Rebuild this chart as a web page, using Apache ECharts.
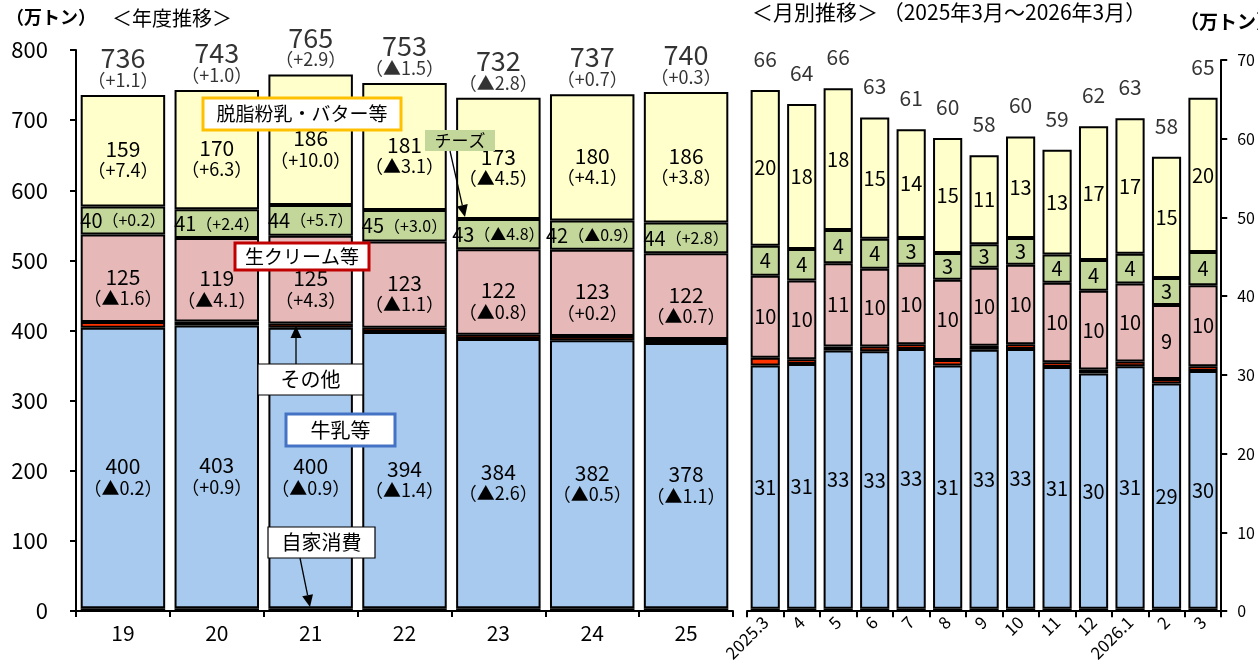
<!DOCTYPE html>
<html><head><meta charset="utf-8">
<script src="https://cdn.jsdelivr.net/npm/echarts@6/dist/echarts.min.js"></script>
<style>html,body{margin:0;padding:0;background:#fff}#c{width:1258px;height:664px}</style>
</head><body><div id="c"></div>
<script>
// ---- yearly data (万トン) ----
const years = ['19','20','21','22','23','24','25'];
const yJika   = [4,4,4,4,4,4,4];
const yMilk   = [400,403,400,394,384,382,378];
const yOther  = [8,6,6,6,6,6,6];
const yCream  = [125,119,125,123,122,123,122];
const yCheese = [40,41,44,45,43,42,44];
const yButter = [159,170,186,181,173,180,186];
const yTotal  = [736,743,765,753,732,737,740];
const chgTotal  = ['+1.1','+1.0','+2.9','▲1.5','▲2.8','+0.7','+0.3'];
const chgMilk   = ['▲0.2','+0.9','▲0.9','▲1.4','▲2.6','▲0.5','▲1.1'];
const chgCream  = ['▲1.6','▲4.1','+4.3','▲1.1','▲0.8','+0.2','▲0.7'];
const chgCheese = ['+0.2','+2.4','+5.7','+3.0','▲4.8','▲0.9','+2.8'];
const chgButter = ['+7.4','+6.3','+10.0','▲3.1','▲4.5','+4.1','+3.8'];
// ---- monthly data (万トン) ----
const months = ['2025.3','4','5','6','7','8','9','10','11','12','2026.1','2','3'];
const mJika   = [0.3,0.3,0.3,0.3,0.3,0.3,0.3,0.3,0.3,0.3,0.3,0.3,0.3];
const mMilk   = [30.9,31.1,32.8,32.7,33.0,30.9,32.9,33.0,30.7,29.9,30.8,28.6,30.2];
const mOther  = [1.0,0.6,0.5,0.6,0.6,0.7,0.5,0.6,0.6,0.5,0.6,0.6,0.6];
const mCream  = [10.4,10.0,10.6,9.9,10.1,10.2,9.9,10.1,10.1,10.0,9.9,9.4,10.3];
const mCheese = [3.8,4.0,4.2,3.8,3.4,3.4,3.0,3.4,3.6,3.9,3.8,3.4,4.2];
const mButter = [19.8,18.4,18.0,15.4,13.8,14.6,11.3,12.9,13.3,17.0,17.2,15.4,19.6];
const mTotal  = [66,64,66,63,61,60,58,60,59,62,63,58,65];

const FONT = "'Noto Sans CJK JP', sans-serif";
const C = {jika:'#3B7A3B', milk:'#A8CAEE', other:'#FF3300', cream:'#E6B9B8', cheese:'#C4D79B', butter:'#FFFFCC'};
const sumArr = (...arrs) => arrs[0].map((_, i) => arrs.reduce((s, a) => s + a[i], 0));
const ySum = sumArr(yJika, yMilk, yOther, yCream, yCheese, yButter);
const mSum = sumArr(mJika, mMilk, mOther, mCream, mCheese, mButter);
const paren = s => '（' + s + '）';

const chart = echarts.init(document.getElementById('c'), null, {renderer:'canvas'});
const border = {borderColor:'#000', borderWidth:2};

function yBar(name, data, color, label) {
  return {type:'bar', name, stack:'y', xAxisIndex:0, yAxisIndex:0, data, barCategoryGap:'10%',
    itemStyle:Object.assign({color}, border), label: label || {show:false}, silent:true};
}
function mBar(name, data, color, showLabel) {
  return {type:'bar', name, stack:'m', xAxisIndex:1, yAxisIndex:1, data, barCategoryGap:'20%',
    itemStyle:Object.assign({color}, border),
    label: showLabel ? {show:true, position:'inside', color:'#000', fontFamily:FONT, fontSize:20,
      formatter:p => String(Math.round(p.value))} : {show:false}, silent:true};
}
const richTwo = (big, small) => ({
  a:{fontSize:big, fontFamily:FONT, color:'#000', lineHeight:big+1},
  b:{fontSize:small, fontFamily:FONT, color:'#000', lineHeight:small+3}
});
function twoLine(vals, chg) {
  return {show:true, position:'inside', offset:[0,9],
    formatter:p => '{a|' + vals[p.dataIndex] + '}\n{b|' + paren(chg[p.dataIndex]) + '}', rich:richTwo(21,18)};
}

function arrow(x1, y1, x2, y2) {
  const ang = Math.atan2(y2 - y1, x2 - x1), L = 12, W = 5.5;
  const bx = x2 - L * Math.cos(ang), by = y2 - L * Math.sin(ang);
  const px = -Math.sin(ang) * W, py = Math.cos(ang) * W;
  return [
    {type:'line', shape:{x1, y1, x2:bx, y2:by}, style:{stroke:'#000', lineWidth:1.3}, z:100},
    {type:'polygon', shape:{points:[[x2,y2],[bx+px,by+py],[bx-px,by-py]]}, style:{fill:'#000'}, z:100}
  ];
}
function box(x, y, w, h, text, stroke, lw, fill, fs) {
  return [
    {type:'rect', shape:{x, y, width:w, height:h}, style:{fill:fill||'#fff', stroke:stroke||null, lineWidth:lw||0}, z:100},
    {type:'text', x:x + w/2, y:y + h/2, style:{text, fontFamily:FONT, fontSize:fs||19, fill:'#000', align:'center', verticalAlign:'middle'}, z:101}
  ];
}

const option = {
  animation:false,
  backgroundColor:'#fff',
  textStyle:{fontFamily:FONT},
  grid:[
    {left:76, right:525, top:50, bottom:53},
    {left:747, right:36, top:60, bottom:52}
  ],
  xAxis:[
    {type:'category', gridIndex:0, data:years,
      axisLine:{lineStyle:{color:'#000', width:2}}, axisTick:{show:true, length:6, lineStyle:{color:'#000', width:2}},
      axisLabel:{fontSize:21, color:'#000', margin:12, fontFamily:FONT}},
    {type:'category', gridIndex:1, data:months,
      axisLine:{lineStyle:{color:'#000', width:2}}, axisTick:{show:true, length:6, lineStyle:{color:'#000', width:2}},
      axisLabel:{fontSize:17, color:'#000', margin:8, rotate:45, interval:0, fontFamily:FONT}}
  ],
  yAxis:[
    {type:'value', gridIndex:0, min:0, max:800, interval:100,
      axisLine:{show:true, lineStyle:{color:'#000', width:2}}, axisTick:{show:true, length:6, lineStyle:{color:'#000', width:2}},
      splitLine:{show:false}, axisLabel:{fontSize:22, color:'#000', margin:28, fontFamily:FONT}},
    {type:'value', gridIndex:1, position:'right', min:0, max:70, interval:10,
      axisLine:{show:true, lineStyle:{color:'#000', width:2}}, axisTick:{show:true, length:6, lineStyle:{color:'#000', width:2}},
      splitLine:{show:false}, axisLabel:{fontSize:16, color:'#000', margin:16, fontFamily:FONT}}
  ],
  series:[
    yBar('自家消費', yJika, C.jika),
    yBar('牛乳等', yMilk, C.milk, twoLine(yMilk, chgMilk)),
    yBar('その他', yOther, C.other),
    yBar('生クリーム等', yCream, C.cream, twoLine(yCream, chgCream)),
    yBar('チーズ', yCheese, C.cheese, {show:true, position:'inside',
      formatter:p => '{a|' + yCheese[p.dataIndex] + '}{b|' + paren(chgCheese[p.dataIndex]) + '}',
      rich:{a:{fontSize:20, fontFamily:FONT, color:'#000'}, b:{fontSize:16, fontFamily:FONT, color:'#000'}}}),
    yBar('脱脂粉乳・バター等', yButter, C.butter, twoLine(yButter, chgButter)),
    {type:'scatter', xAxisIndex:0, yAxisIndex:0, data:ySum, symbolSize:1, itemStyle:{color:'rgba(0,0,0,0)'}, silent:true,
      label:{show:true, position:'top', distance:5,
        formatter:p => '{a|' + yTotal[p.dataIndex] + '}\n{b|' + paren(chgTotal[p.dataIndex]) + '}',
        rich:{a:{fontSize:27, fontFamily:FONT, color:'#000', lineHeight:25}, b:{fontSize:18, fontFamily:FONT, color:'#000', lineHeight:19}}}},
    mBar('自家消費', mJika, C.jika, false),
    mBar('牛乳等', mMilk, C.milk, true),
    mBar('その他', mOther, C.other, false),
    mBar('生クリーム等', mCream, C.cream, true),
    mBar('チーズ', mCheese, C.cheese, true),
    mBar('脱脂粉乳・バター等', mButter, C.butter, true),
    {type:'scatter', xAxisIndex:1, yAxisIndex:1, data:mSum, symbolSize:1, itemStyle:{color:'rgba(0,0,0,0)'}, silent:true,
      label:{show:true, position:'top', distance:20, color:'#000', fontSize:21, fontFamily:FONT,
        formatter:p => String(mTotal[p.dataIndex])}}
  ],
  graphic:[
    {type:'text', left:6, top:8, style:{text:'（万トン）', fontFamily:FONT, fontSize:18, fontWeight:'bold', fill:'#000'}},
    {type:'text', left:112, top:8, style:{text:'＜年度推移＞', fontFamily:FONT, fontSize:20, fill:'#000'}},
    {type:'text', left:752, top:2, style:{text:'＜月別推移＞ （2025年3月～2026年3月）', fontFamily:FONT, fontSize:21, fill:'#000'}},
    {type:'text', left:1180, top:12, style:{text:'（万トン）', fontFamily:FONT, fontSize:19, fontWeight:'bold', fill:'#000'}},
    ...box(203, 98, 198, 32, '脱脂粉乳・バター等', '#FFC000', 3, '#fff', 19),
    ...box(235, 243, 134, 27, '生クリーム等', '#C00000', 3, '#fff', 19),
    ...box(425, 130, 70, 21, 'チーズ', null, 0, '#C4D79B', 17),
    ...arrow(450, 151, 465, 217),
    ...box(258, 364, 105, 31, 'その他', '#000', 1.2, '#fff', 20),
    ...arrow(296, 364, 296, 326),
    ...box(286, 414, 109, 32, '牛乳等', '#4472C4', 3, '#fff', 20),
    ...box(268, 527, 107, 31, '自家消費', '#000', 1.2, '#fff', 20),
    ...arrow(300, 558, 310, 607)
  ]
};
chart.setOption(option);
</script></body></html>
